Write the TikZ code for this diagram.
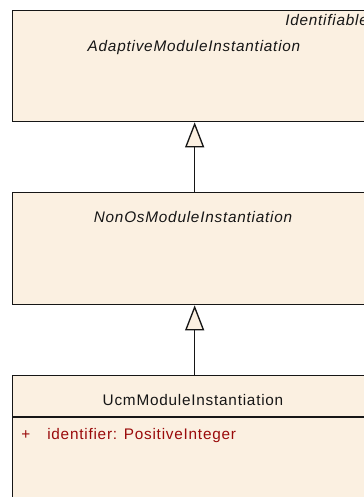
\documentclass[tikz,border=0pt]{standalone}
\usepackage{fontspec}
\setmainfont{Liberation Sans}[LetterSpace=5]
\usetikzlibrary{arrows.meta,positioning}
\definecolor{classfill}{HTML}{FBF0E1}
\definecolor{classline}{HTML}{161616}
\definecolor{attr}{HTML}{9A0A0A}

\begin{document}
\begin{tikzpicture}[x=0.75pt,y=-0.75pt,
    classbox/.style={draw=classline,fill=classfill,line width=1pt,rectangle,anchor=north west,minimum width=273pt,inner sep=0pt},
    label/.style={font=\fontsize{11.5}{13}\selectfont,text=classline,inner sep=0pt},
    inherit/.style={draw=classline,line width=1pt,-{Triangle[width=14.25pt,length=18.75pt,fill=classfill]}}]
  \useasboundingbox (0,0) rectangle (364,497);
  \clip (0,0) rectangle (364,497);

  % AdaptiveModuleInstantiation
  \node[classbox,minimum height=83.25pt] (adaptive) at (12,10) {};
  \node[label,anchor=base west,font=\fontsize{11.5}{13}\selectfont\itshape] (adaptive-stereo) at (285,25) {Identifiable};
  \node[label,anchor=base,font=\fontsize{11.5}{13}\selectfont\itshape] (adaptive-name) at (194,51) {AdaptiveModuleInstantiation};

  % NonOsModuleInstantiation
  \node[classbox,minimum height=84pt] (nonos) at (12,192) {};
  \node[label,anchor=base,font=\fontsize{11.5}{13}\selectfont\itshape] (nonos-name) at (193,222) {NonOsModuleInstantiation};

  % UcmModuleInstantiation
  \node[classbox,minimum height=120pt] (ucm) at (12,375) {};
  \node[label,anchor=base] (ucm-name) at (193,405) {UcmModuleInstantiation};
  \draw[classline,line width=1pt] (12,417) -- (376,417);
  \node[label,anchor=base west,text=attr] (ucm-plus) at (21,439) {+};
  \node[label,anchor=base west,text=attr] (ucm-attr) at (47,439) {identifier: PositiveInteger};

  % generalizations
  \draw[inherit] (nonos.north) -- (adaptive.south);
  \draw[inherit] (ucm.north) -- (nonos.south);
\end{tikzpicture}
\end{document}
